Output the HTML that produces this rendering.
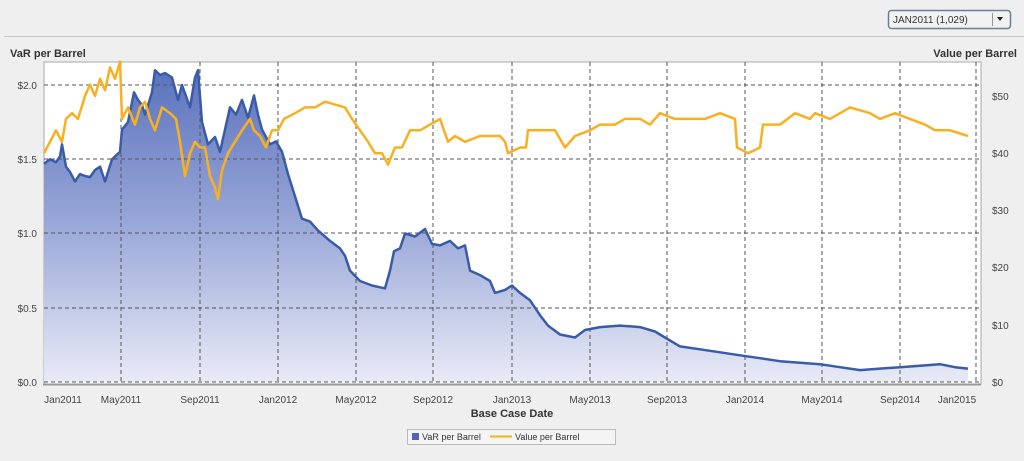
<!DOCTYPE html>
<html><head><meta charset="utf-8"><style>
body{margin:0;background:#efefef;font-family:"Liberation Sans",sans-serif;}
</style></head><body>
<svg width="1024" height="456" xmlns="http://www.w3.org/2000/svg" font-family="Liberation Sans, sans-serif">
<defs>
<linearGradient id="g" x1="0" y1="70" x2="0" y2="382" gradientUnits="userSpaceOnUse">
<stop offset="0" stop-color="#5b72bd"/><stop offset="0.5" stop-color="#9aa8d8"/><stop offset="1" stop-color="#e8eaf6"/>
</linearGradient>
</defs>
<rect width="1024" height="456" fill="#efefef"/>
<line x1="4" y1="36.5" x2="1024" y2="36.5" stroke="#c6c6c6"/>
<rect x="888.5" y="10.5" width="122" height="18" rx="3" fill="#f2f2f2" stroke="#6a7f99" stroke-width="1.5"/>
<text x="893" y="23" font-size="10" fill="#333">JAN2011 (1,029)</text>
<line x1="992.5" y1="13" x2="992.5" y2="26" stroke="#999"/>
<path d="M997 17 L1003 17 L1000 21 Z" fill="#222"/>
<text x="10" y="57" font-size="11" font-weight="bold" fill="#333">VaR per Barrel</text>
<text x="1017" y="57" font-size="11" font-weight="bold" fill="#333" text-anchor="end">Value per Barrel</text>
<rect x="44" y="62" width="937" height="322" fill="#fff" stroke="#aaa"/>
<polygon fill="url(#g)" points="44,382 44,163.7 50,159.3 56,162.2 60,156.3 62,144.4 66,166.7 70,172 75,181.5 80,174.1 85,176 90,177.1 95,170 100,166.7 105,181.5 112,159.3 120,151.8 122,129.6 128,122.1 134,92.4 138,99.9 142,105 145,114.7 152,92.4 155,70.2 160,75 165,73.1 172,77.6 178,99.9 182,85 190,107.3 195,77.6 198,70.2 202,122.1 208,144.4 215,137 220,151.8 225,129.6 230,107.3 236,114.7 242,99.9 248,117.7 254,95.4 258,114.7 262,129.6 270,144.4 276,141.4 282,151.8 288,174.1 295,196.4 302,218.7 310,221.6 318,230.5 330,240.9 340,248.4 345,255.8 350,270.6 360,281 372,285.5 385,288.4 390,270.6 394,251.3 400,248.4 405,233.5 415,236.5 425,229 432,243.9 440,245.4 450,240.9 458,248.4 465,245.4 470,270.6 480,275.1 490,281 495,292.9 505,289.9 512,285.5 520,292.9 530,300.3 540,315.2 548,325.6 560,334.5 575,337.5 585,330 600,327.1 620,325.6 640,327.1 655,331.5 665,337.5 680,346.4 700,349.3 720,352.3 740,355.3 760,358.2 780,361.2 800,362.7 820,364.2 840,367.2 860,370.1 880,368.6 900,367.2 920,365.7 940,364.2 955,367.2 968,368.6 968,382"/>
<g stroke="#555" stroke-dasharray="4,3" stroke-width="1">
<line x1="44" y1="85" x2="981" y2="85"/><line x1="44" y1="159" x2="981" y2="159"/><line x1="44" y1="233" x2="981" y2="233"/><line x1="44" y1="308" x2="981" y2="308"/><line x1="44" y1="382" x2="981" y2="382"/>
<line x1="121" y1="62" x2="121" y2="384"/><line x1="200" y1="62" x2="200" y2="384"/><line x1="278" y1="62" x2="278" y2="384"/><line x1="356" y1="62" x2="356" y2="384"/><line x1="433" y1="62" x2="433" y2="384"/><line x1="512" y1="62" x2="512" y2="384"/><line x1="590" y1="62" x2="590" y2="384"/><line x1="667" y1="62" x2="667" y2="384"/><line x1="745" y1="62" x2="745" y2="384"/><line x1="822" y1="62" x2="822" y2="384"/><line x1="900" y1="62" x2="900" y2="384"/><line x1="976" y1="62" x2="976" y2="384"/>
</g>
<polyline fill="none" stroke="#3a5ba8" stroke-width="2.5" stroke-linejoin="round" points="44,163.7 50,159.3 56,162.2 60,156.3 62,144.4 66,166.7 70,172 75,181.5 80,174.1 85,176 90,177.1 95,170 100,166.7 105,181.5 112,159.3 120,151.8 122,129.6 128,122.1 134,92.4 138,99.9 142,105 145,114.7 152,92.4 155,70.2 160,75 165,73.1 172,77.6 178,99.9 182,85 190,107.3 195,77.6 198,70.2 202,122.1 208,144.4 215,137 220,151.8 225,129.6 230,107.3 236,114.7 242,99.9 248,117.7 254,95.4 258,114.7 262,129.6 270,144.4 276,141.4 282,151.8 288,174.1 295,196.4 302,218.7 310,221.6 318,230.5 330,240.9 340,248.4 345,255.8 350,270.6 360,281 372,285.5 385,288.4 390,270.6 394,251.3 400,248.4 405,233.5 415,236.5 425,229 432,243.9 440,245.4 450,240.9 458,248.4 465,245.4 470,270.6 480,275.1 490,281 495,292.9 505,289.9 512,285.5 520,292.9 530,300.3 540,315.2 548,325.6 560,334.5 575,337.5 585,330 600,327.1 620,325.6 640,327.1 655,331.5 665,337.5 680,346.4 700,349.3 720,352.3 740,355.3 760,358.2 780,361.2 800,362.7 820,364.2 840,367.2 860,370.1 880,368.6 900,367.2 920,365.7 940,364.2 955,367.2 968,368.6"/>
<polyline fill="none" stroke="#f9b020" stroke-width="2.5" stroke-linejoin="round" points="44,153.2 50,141.8 56,130.3 62,141.8 66,118.9 72,113.2 78,118.9 85,96 90,84.6 95,96 100,78.8 105,90.3 110,67.4 115,78.8 120,61.7 122,118.9 128,107.4 135,124.6 140,107.4 145,101.7 150,118.9 155,130.3 162,107.4 170,113.2 176,118.9 180,141.8 185,176.1 190,153.2 195,141.8 200,147.5 205,147.5 210,176.1 215,187.5 218,199 222,170.4 228,153.2 235,141.8 242,130.3 250,118.9 254,130.3 260,136 266,147.5 272,130.3 278,130.3 284,118.9 295,113.2 305,107.4 315,107.4 325,101.7 335,104.6 345,107.4 352,118.9 360,130.3 368,141.8 375,153.2 382,153.2 388,164.6 395,147.5 402,147.5 410,130.3 420,130.3 430,124.6 440,118.9 448,141.8 455,136 465,141.8 480,136 495,136 500,136 505,141.8 508,153.2 520,147.5 526,147.5 528,130.3 545,130.3 555,130.3 565,147.5 575,136 590,130.3 600,124.6 615,124.6 625,118.9 640,118.9 650,124.6 660,113.2 675,118.9 690,118.9 705,118.9 720,113.2 735,118.9 737,147.5 748,153.2 760,147.5 763,124.6 780,124.6 795,113.2 810,118.9 815,113.2 830,118.9 850,107.4 870,113.2 880,118.9 895,113.2 910,118.9 925,124.6 935,130.3 950,130.3 968,136"/>
<line x1="43" y1="384.5" x2="981" y2="384.5" stroke="#999" stroke-width="2"/>
<g font-size="10" fill="#444" text-anchor="end">
<text x="37" y="89">$2.0</text><text x="37" y="163">$1.5</text><text x="37" y="237">$1.0</text><text x="37" y="312">$0.5</text><text x="37" y="386">$0.0</text>
</g>
<g font-size="10" fill="#444">
<text x="992" y="100">$50</text><text x="992" y="157">$40</text><text x="992" y="214">$30</text><text x="992" y="271">$20</text><text x="992" y="329">$10</text><text x="992" y="386">$0</text>
</g>
<g font-size="10" fill="#444" text-anchor="middle">
<text x="63" y="403">Jan2011</text><text x="121" y="403">May2011</text><text x="200" y="403">Sep2011</text><text x="278" y="403">Jan2012</text><text x="356" y="403">May2012</text><text x="433" y="403">Sep2012</text><text x="512" y="403">Jan2013</text><text x="590" y="403">May2013</text><text x="667" y="403">Sep2013</text><text x="745" y="403">Jan2014</text><text x="822" y="403">May2014</text><text x="900" y="403">Sep2014</text><text x="957" y="403">Jan2015</text>
</g>
<text x="512" y="417" font-size="11" font-weight="bold" fill="#333" text-anchor="middle">Base Case Date</text>
<rect x="407.5" y="429.5" width="208" height="15" fill="#f4f4f4" stroke="#bbb"/>
<rect x="412" y="433" width="7" height="7" fill="#5066b0"/>
<text x="422" y="440" font-size="9" fill="#333">VaR per Barrel</text>
<line x1="490" y1="436.5" x2="512" y2="436.5" stroke="#f9b020" stroke-width="2"/>
<text x="515" y="440" font-size="9" fill="#333">Value per Barrel</text>
</svg>
</body></html>
